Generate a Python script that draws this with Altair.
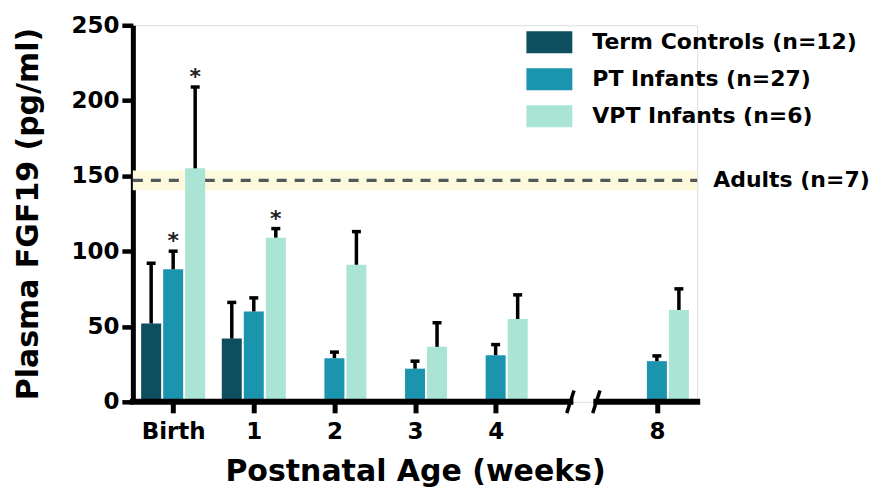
import altair as alt
import pandas as pd

# ---------------- data ----------------
weeks = ["Birth", "1", "2", "3", "4", "8"]
groups = ["Term Controls (n=12)", "PT Infants (n=27)", "VPT Infants (n=6)"]
colors = ["#0e4e5e", "#1b94ae", "#aae4d4"]

term_mean = [52, 42, None, None, None, None]
term_top = [92, 66, None, None, None, None]
pt_mean = [88, 60, 29, 22, 31, 27]
pt_top = [100, 69, 33, 27, 38, 30.5]
vpt_mean = [155, 109, 91, 36.5, 55, 61]
vpt_top = [209, 115, 113, 52.5, 71, 75]
# significance asterisks (per group, per week)
term_sig = [False, False, False, False, False, False]
pt_sig = [True, False, False, False, False, False]
vpt_sig = [True, True, False, False, False, False]

adult_label = "Adults (n=7)"
adult_mean = 147
adult_sem = 6.5

y_ticks = [0, 50, 100, 150, 200, 250]
y_title = "Plasma FGF19 (pg/ml)"
x_title = "Postnatal Age (weeks)"
break_before = "8"   # axis break is drawn just before this week

# ---------------- layout helpers ----------------
FONT = "DejaVu Sans"
GROUP_STEP = 0.273
BAR_HALF = 0.124

slots = []
s = 0
for w in weeks:
    if w == break_before:
        s += 1
    slots.append(s)
    s += 1
x_min, x_max = -0.5, slots[-1] + 0.5
brk = slots[weeks.index(break_before)] - 1  # empty slot index
brk_lo, brk_hi = brk - 0.073, brk + 0.249

rows = []
for gi, (g, means, tops, sigs) in enumerate(zip(
        groups, [term_mean, pt_mean, vpt_mean], [term_top, pt_top, vpt_top],
        [term_sig, pt_sig, vpt_sig])):
    for wi, w in enumerate(weeks):
        if means[wi] is None:
            continue
        xc = slots[wi] + (gi - 1) * GROUP_STEP
        rows.append(dict(week=w, group=g, mean=means[wi], top=tops[wi],
                         xc=xc, xlo=xc - BAR_HALF, xhi=xc + BAR_HALF,
                         star="*" if sigs[wi] else ""))
df = pd.DataFrame(rows)

label_arr = [""] * (slots[-1] + 1)
for w, sl in zip(weeks, slots):
    label_arr[sl] = w
label_expr = "[" + ",".join("'%s'" % l for l in label_arr) + "][datum.value]"

xscale = alt.Scale(domain=[x_min, x_max], nice=False, zero=False)
yscale = alt.Scale(domain=[y_ticks[0], y_ticks[-1]], nice=False)

x_axis = alt.Axis(values=slots, labelExpr=label_expr, domain=False, grid=False,
                  tickSize=11, tickWidth=5, tickColor="black",
                  labelFont=FONT, labelFontSize=23, labelFontWeight="bold",
                  labelColor="black", labelPadding=8,
                  title=x_title, titleFont=FONT, titleFontSize=30,
                  titleFontWeight="bold", titleColor="black", titlePadding=13)
y_axis = alt.Axis(values=y_ticks, grid=False, domainWidth=5, domainColor="black",
                  tickSize=11, tickWidth=4.5, tickColor="black",
                  labelFont=FONT, labelFontSize=23, labelFontWeight="bold",
                  labelColor="black", labelPadding=3,
                  title=y_title, titleFont=FONT, titleFontSize=30,
                  titleFontWeight="bold", titleColor="black", titlePadding=27)

# adult reference band + dashed line
adult_df = pd.DataFrame([dict(lo=adult_mean - adult_sem, hi=adult_mean + adult_sem,
                              m=adult_mean, x0=x_min, x1=x_max, label=adult_label)])
band = alt.Chart(adult_df).mark_rect(color="#fcf9dc").encode(
    x=alt.X("x0:Q", scale=xscale, axis=x_axis), x2="x1:Q",
    y=alt.Y("lo:Q", scale=yscale, axis=y_axis), y2="hi:Q")
dash = alt.Chart(adult_df).mark_rule(color="#53585a", strokeWidth=3.2,
                                     strokeDash=[10, 8]).encode(
    x="x0:Q", x2="x1:Q", y="m:Q")
adult_txt = alt.Chart(adult_df).mark_text(
    align="left", baseline="middle", dx=16, font=FONT, fontSize=22,
    fontWeight="bold", color="black").encode(x="x1:Q", y="m:Q", text="label:N")

bars = alt.Chart(df).mark_bar(opacity=1).encode(
    x="xlo:Q", x2="xhi:Q",
    y=alt.Y("mean:Q", stack=None), y2=alt.datum(0),
    color=alt.Color("group:N", scale=alt.Scale(domain=groups, range=colors),
                    legend=alt.Legend(
                        orient="none", legendX=406, legendY=6, title=None,
                        symbolType="M-2.09,-1H2.09V1H-2.09Z", symbolSize=484,
                        symbolStrokeWidth=0, symbolOpacity=1,
                        labelFont=FONT, labelFontSize=22, labelFontWeight="bold",
                        labelColor="black", labelOffset=32, labelLimit=500,
                        rowPadding=15, padding=0)))
err = alt.Chart(df).mark_rule(color="black", strokeWidth=3.5).encode(
    x="xc:Q", y="mean:Q", y2="top:Q")
caps = alt.Chart(df).mark_tick(color="black", orient="horizontal", size=9,
                               thickness=3.5, opacity=1).encode(
    x="xc:Q", y="top:Q")
stars = alt.Chart(df).mark_text(font=FONT, fontSize=22, fontWeight="bold",
                                color="#222", baseline="alphabetic", dy=-3).encode(
    x="xc:Q", y="top:Q", text="star:N")

# broken x-axis line
seg_df = pd.DataFrame([dict(a=x_min, b=brk_lo, y=0), dict(a=brk_hi, b=x_max, y=0)])
axis_line = alt.Chart(seg_df).mark_rule(color="black", strokeWidth=6,
                                        strokeCap="square").encode(
    x="a:Q", x2="b:Q", y="y:Q")
slash_df = pd.DataFrame([dict(a=brk_lo - 0.045, b=brk_lo + 0.045, y0=-7.5, y1=7.5),
                         dict(a=brk_hi - 0.045, b=brk_hi + 0.045, y0=-7.5, y1=7.5)])
slashes = alt.Chart(slash_df).mark_rule(color="black", strokeWidth=3.5).encode(
    x="a:Q", x2="b:Q", y="y0:Q", y2="y1:Q")

chart = alt.layer(band, dash, bars, err, caps, stars, axis_line, slashes, adult_txt
                  ).properties(width=565, height=377
                  ).configure_view(stroke=None
                  ).configure(padding={"top": 6, "left": 5, "right": 0, "bottom": 0})

chart.save("out.html", embed_options={"renderer": "svg", "actions": False})
